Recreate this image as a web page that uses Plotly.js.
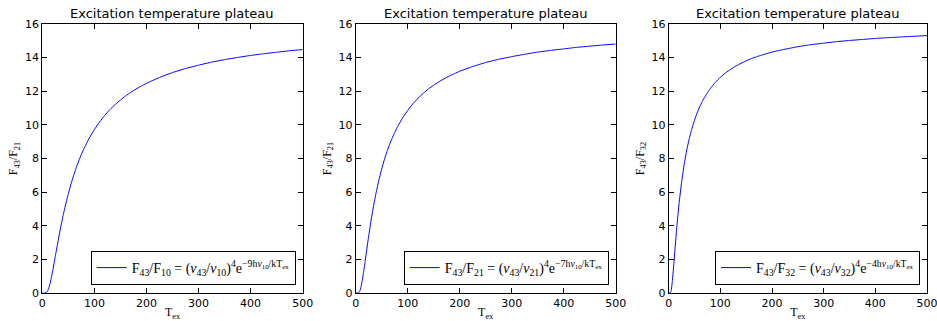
<!DOCTYPE html>
<html>
<head>
<meta charset="utf-8">
<script src="https://cdn.plot.ly/plotly-3.0.1.min.js"></script>
<style>html,body{margin:0;padding:0;background:#fff;}#chart{width:937px;height:321px;}</style>
</head>
<body>
<div id="chart"></div>
<script>
// Excitation temperature (K)
const tex1 = [0, 2, 5, 8, 10, 12, 15, 18, 20, 25, 30, 35, 40, 45, 50, 55, 60, 65, 70, 75, 80, 90, 100, 110, 120, 130, 140, 150, 160, 170, 180, 190, 200, 225, 250, 275, 300, 325, 350, 375, 400, 425, 450, 475, 500];
const ratio1 = [0, 0, 0.001, 0.032, 0.110, 0.252, 0.579, 1.006, 1.327, 2.18, 3.04, 3.86, 4.61, 5.29, 5.91, 6.47, 6.98, 7.44, 7.86, 8.24, 8.59, 9.20, 9.72, 10.17, 10.57, 10.91, 11.21, 11.48, 11.72, 11.94, 12.13, 12.31, 12.47, 12.82, 13.11, 13.35, 13.55, 13.73, 13.88, 14.01, 14.13, 14.23, 14.32, 14.41, 14.48];

const tex2 = [0, 2, 5, 8, 10, 12, 15, 18, 20, 25, 30, 35, 40, 45, 50, 55, 60, 65, 70, 75, 80, 90, 100, 110, 120, 130, 140, 150, 160, 170, 180, 190, 200, 225, 250, 275, 300, 325, 350, 375, 400, 425, 450, 475, 500];
const ratio2 = [0, 0, 0.007, 0.127, 0.334, 0.635, 1.21, 1.86, 2.31, 3.40, 4.40, 5.29, 6.08, 6.77, 7.38, 7.92, 8.40, 8.82, 9.20, 9.55, 9.86, 10.41, 10.86, 11.25, 11.59, 11.88, 12.14, 12.36, 12.56, 12.74, 12.90, 13.05, 13.19, 13.47, 13.71, 13.90, 14.06, 14.20, 14.33, 14.43, 14.52, 14.61, 14.68, 14.75, 14.81];

const tex3 = [0, 2, 3, 4, 5, 6, 7, 8, 9, 10, 12, 15, 18, 20, 25, 30, 35, 40, 45, 50, 55, 60, 65, 70, 75, 80, 90, 100, 110, 120, 130, 140, 150, 160, 170, 180, 190, 200, 225, 250, 275, 300, 325, 350, 375, 400, 425, 450, 475, 500];
const ratio3 = [0, 0, 0.010, 0.064, 0.193, 0.402, 0.681, 1.01, 1.37, 1.75, 2.54, 3.67, 4.69, 5.30, 6.61, 7.66, 8.51, 9.21, 9.79, 10.28, 10.71, 11.07, 11.39, 11.67, 11.92, 12.14, 12.52, 12.83, 13.09, 13.31, 13.50, 13.66, 13.81, 13.94, 14.05, 14.15, 14.24, 14.33, 14.50, 14.65, 14.77, 14.86, 14.95, 15.02, 15.08, 15.14, 15.19, 15.23, 15.27, 15.31];

const panelTitle = "Excitation temperature plateau";
const yLabels = ["F<sub>43</sub>/F<sub>21</sub>", "F<sub>43</sub>/F<sub>21</sub>", "F<sub>43</sub>/F<sub>32</sub>"];
const xLabel = "T<sub>ex</sub>";
const legendNames = [
  "F<sub>43</sub>/F<sub>10</sub> = (<i>ν</i><sub>43</sub>/<i>ν</i><sub>10</sub>)<sup>4</sup>e<sup>−9h<i>ν</i><sub>10</sub>/kT<sub>ex</sub></sup>",
  "F<sub>43</sub>/F<sub>21</sub> = (<i>ν</i><sub>43</sub>/<i>ν</i><sub>21</sub>)<sup>4</sup>e<sup>−7h<i>ν</i><sub>10</sub>/kT<sub>ex</sub></sup>",
  "F<sub>43</sub>/F<sub>32</sub> = (<i>ν</i><sub>43</sub>/<i>ν</i><sub>32</sub>)<sup>4</sup>e<sup>−4h<i>ν</i><sub>10</sub>/kT<sub>ex</sub></sup>"
];
const xTicks = [0, 100, 200, 300, 400, 500];
const yTicks = [0, 2, 4, 6, 8, 10, 12, 14, 16];

const W = 937, H = 321;
const mL = 42, mR = 10, mT = 24, mB = 28;
const pw = W - mL - mR, ph = H - mT - mB;
const domainsPx = [[42.3, 302.7], [355.7, 615.7], [668.7, 927]];
const domains = domainsPx.map(d => [(d[0] - mL) / pw, (d[1] - mL) / pw]);

const xs = [tex1, tex2, tex3], ys = [ratio1, ratio2, ratio3];
const traces = xs.map((x, i) => ({
  x: x, y: ys[i], type: 'scatter', mode: 'lines',
  line: {color: '#0000ff', width: 1, shape: 'spline', smoothing: 0.4},
  name: legendNames[i],
  xaxis: i === 0 ? 'x' : 'x' + (i + 1),
  yaxis: i === 0 ? 'y' : 'y' + (i + 1),
  legend: i === 0 ? 'legend' : 'legend' + (i + 1),
  showlegend: true
}));

const tickFont = {family: 'DejaVu Sans, sans-serif', size: 11, color: '#000'};
const serif = 'Liberation Serif, DejaVu Serif, serif';

const layout = {
  width: W, height: H,
  margin: {l: mL, r: mR, t: mT, b: mB},
  paper_bgcolor: '#fff', plot_bgcolor: '#fff',
  showlegend: true,
  annotations: [],
  font: {family: 'DejaVu Sans, sans-serif', color: '#000'}
};

for (let i = 0; i < 3; i++) {
  const sx = i === 0 ? '' : String(i + 1);
  layout['xaxis' + sx] = {
    domain: domains[i], range: [0, 500], anchor: 'y' + sx,
    tickvals: xTicks, ticktext: xTicks.map(String),
    ticks: 'inside', ticklen: 5, tickcolor: '#000', tickwidth: 1,
    showline: true, linecolor: '#000', linewidth: 1, mirror: 'ticks',
    showgrid: false, zeroline: false, tickfont: tickFont,
    ticklabeloverflow: 'allow',
    title: {text: xLabel, font: {family: serif, size: 12, color: '#000'}, standoff: 5}
  };
  layout['yaxis' + sx] = {
    domain: [0, 1], range: [0, 16], anchor: 'x' + sx,
    tickvals: yTicks, ticktext: yTicks.map(String),
    ticks: 'inside', ticklen: 5, tickcolor: '#000', tickwidth: 1,
    showline: true, linecolor: '#000', linewidth: 1, mirror: 'ticks',
    showgrid: false, zeroline: false, tickfont: tickFont,
    ticklabeloverflow: 'allow',
    title: {text: yLabels[i], font: {family: serif, size: 12, color: '#000'}, standoff: 4}
  };
  layout[i === 0 ? 'legend' : 'legend' + (i + 1)] = {
    x: domains[i][1] - 7 / pw, xanchor: 'right', xref: 'paper',
    y: 8 / ph, yanchor: 'bottom', yref: 'paper',
    bgcolor: '#fff', bordercolor: '#000', borderwidth: 1,
    font: {family: serif, size: 14, color: '#000'},
    itemwidth: 30
  };
  layout.annotations.push({
    text: panelTitle, xref: 'paper', yref: 'paper',
    x: (domains[i][0] + domains[i][1]) / 2, y: 1, xanchor: 'center', yanchor: 'bottom',
    yshift: 1, showarrow: false,
    font: {family: 'DejaVu Sans, sans-serif', size: 13, color: '#000'}
  });
}

Plotly.newPlot('chart', traces, layout, {displayModeBar: false, staticPlot: true});
</script>
</body>
</html>
